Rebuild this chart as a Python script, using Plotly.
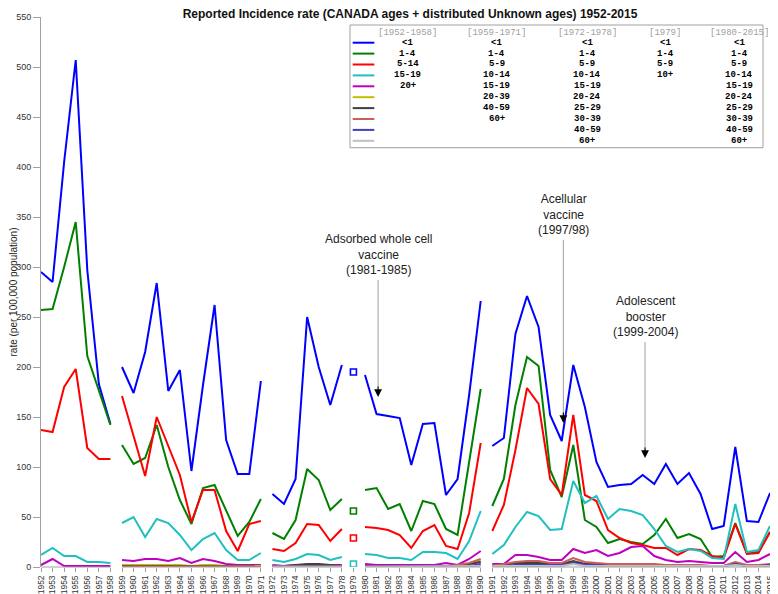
import plotly.graph_objects as go

# colours used for the age groups, in legend order
colors = ['#0000ff', '#008000', '#ff0000', '#1fc0c0', '#c000c0',
          '#bfbf00', '#404040', '#cd5c5c', '#3f3fbf', '#c0c0c0']

# 1952-1958
years_a = [1952, 1953, 1954, 1955, 1956, 1957, 1958]
seg_a = {
    '<1': [295, 285, 405, 507, 297, 183, 143],
    '1-4': [257, 258, 300, 345, 211, 177, 142],
    '5-14': [137, 135, 180, 198, 119, 108, 108],
    '15-19': [12, 19, 11, 11, 5, 5, 4],
    '20+': [2, 8, 1, 1, 1, 1, 1],
}

# 1959-1971
years_b = list(range(1959, 1972))
seg_b = {
    '<1': [200, 174, 215, 284, 176, 197, 96, 182, 262, 127, 93, 93, 186],
    '1-4': [122, 103, 109, 142, 100, 67, 43, 79, 82, 57, 31, 45, 68],
    '5-9': [171, 130, 91, 150, 121, 92, 45, 77, 77, 36, 16, 43, 46],
    '10-14': [44, 50, 30, 48, 44, 32, 17, 28, 34, 17, 7, 7, 14],
    '15-19': [7, 6, 8, 8, 6, 9, 4, 8, 6, 3, 2, 2, 2],
    '20-39': [2, 2, 2, 2, 2, 2, 1, 2, 2, 1, 1, 1, 1],
    '40-59': [1, 1, 1, 1, 1, 1, 1, 1, 1, 1, 0.5, 0.5, 0.5],
    '60+': [0.5, 0.5, 0.5, 0.5, 0.5, 0.5, 0.5, 0.5, 0.5, 0.5, 0.3, 0.3, 0.3],
}

# 1972-1978
years_c = list(range(1972, 1979))
seg_c = {
    '<1': [73, 63, 88, 250, 200, 162, 202],
    '1-4': [34, 28, 47, 98, 87, 57, 68],
    '5-9': [18, 16, 24, 43, 42, 26, 38],
    '10-14': [7, 5, 8, 13, 12, 7, 10],
    '15-19': [2, 1, 2, 2, 2, 2, 2],
    '20-24': [1, 1, 1, 2, 2, 1, 1],
    '25-29': [1, 1, 2, 3, 3, 2, 1],
    '30-39': [1, 1, 1, 1, 1, 1, 1],
    '40-59': [0.5, 0.5, 0.5, 0.5, 0.5, 0.5, 0.5],
    '60+': [0.3, 0.3, 0.3, 0.3, 0.3, 0.3, 0.3],
}

# 1979
years_d = [1979]
seg_d = {
    '<1': [195],
    '1-4': [56],
    '5-9': [29],
    '10+': [3],
}

# 1980-2015 (drawn as two pieces: 1980-1990 and 1991-2015)
years_e = list(range(1980, 2016))
seg_e = {
    '<1': [192, 153, 151, 149, 102, 143, 144, 72, 88, 172, 266,
           121, 129, 233, 271, 240, 152, 126, 202, 160, 105, 80, 82, 83,
           92, 83, 103, 83, 94, 73, 38, 41, 120, 46, 45, 74],
    '1-4': [77, 79, 58, 63, 36, 66, 63, 38, 32, 105, 178,
            61, 88, 162, 210, 201, 97, 70, 122, 47, 40, 24, 28, 25,
            23, 32, 48, 29, 33, 28, 10, 11, 44, 14, 15, 35],
    '5-9': [40, 39, 37, 32, 19, 36, 42, 21, 18, 54, 124,
            36, 62, 117, 179, 163, 88, 72, 152, 72, 66, 37, 29, 24,
            22, 19, 19, 12, 18, 17, 11, 9, 43, 13, 14, 35],
    '10-14': [13, 12, 9, 9, 7, 15, 15, 14, 8, 26, 56,
              13, 22, 40, 55, 51, 37, 38, 86, 64, 71, 48, 58, 56,
              52, 38, 21, 15, 18, 16, 9, 8, 63, 15, 17, 41],
    '15-19': [3, 2, 2, 2, 2, 2, 2, 4, 2, 8, 16,
              3, 3, 12, 12, 10, 7, 7, 18, 14, 17, 11, 14, 20,
              21, 11, 7, 5, 6, 5, 4, 4, 15, 5, 7, 13],
    '20-24': [1, 1, 1, 1, 1, 1, 1, 1, 1, 3, 6,
              1, 2, 3, 4, 4, 3, 3, 5, 3, 3, 2, 2, 2,
              2, 2, 1, 1, 1, 1, 1, 1, 3, 1, 1, 2],
    '25-29': [1, 1, 1, 1, 1, 1, 1, 1, 1, 3, 5,
              1, 2, 4, 4, 4, 3, 3, 6, 3, 3, 2, 2, 2,
              2, 2, 2, 1, 1, 1, 1, 1, 3, 1, 1, 2],
    '30-39': [1, 1, 1, 1, 1, 1, 1, 1, 2, 4, 8,
              1, 3, 5, 6, 6, 4, 4, 9, 5, 4, 3, 3, 3,
              3, 3, 2, 2, 2, 2, 1, 1, 5, 2, 2, 3],
    '40-59': [0.5, 0.5, 0.5, 0.5, 0.5, 0.5, 0.5, 0.5, 0.5, 1, 3,
              1, 1, 2, 2, 2, 2, 2, 4, 2, 2, 1, 1, 1,
              1, 1, 1, 1, 1, 1, 1, 1, 3, 1, 1, 2],
    '60+': [0.3, 0.3, 0.3, 0.3, 0.3, 0.3, 0.3, 0.3, 0.3, 0.5, 1,
            1, 1, 1, 1, 1, 1, 1, 3, 1, 1, 1, 1, 1,
            1, 1, 1, 1, 1, 1, 1, 1, 2, 1, 1, 1],
}
split_year = 1991

headers = ['[1952-1958]', '[1959-1971]', '[1972-1978]', '[1979]', '[1980-2015]']
segments = [(years_a, seg_a), (years_b, seg_b), (years_c, seg_c), (years_d, seg_d), (years_e, seg_e)]

# page geometry in pixels (the page body adds an 8px margin round the figure)
OFF = 8
W, H = 778 - OFF, 594 - OFF
L, R, T, B = 41 - OFF, 8, 17 - OFF, 27
PW, PH = W - L - R, H - T - B


def px(x):
    # page pixel x -> paper
    return (x - OFF - L) / PW


def py(y):
    # page pixel y -> paper
    return (T + PH - (y - OFF)) / PH


fig = go.Figure()

pieces = []
for years, seg in segments:
    if years[0] <= split_year <= years[-1]:
        k = years.index(split_year)
        pieces.append((years[:k], {g: v[:k] for g, v in seg.items()}))
        pieces.append((years[k:], {g: v[k:] for g, v in seg.items()}))
    else:
        pieces.append((years, seg))

for years, seg in pieces:
    for i, (group, vals) in enumerate(seg.items()):
        if len(years) == 1:
            fig.add_trace(go.Scatter(x=years, y=vals, mode='markers', showlegend=False,
                                     marker=dict(symbol='square-open', size=6, color=colors[i],
                                                 line=dict(width=1.6, color=colors[i]))))
        else:
            fig.add_trace(go.Scatter(x=years, y=vals, mode='lines', showlegend=False,
                                     line=dict(color=colors[i], width=2)))

shapes = []
# broken x-axis baseline, one piece per segment
for years, _ in pieces:
    if len(years) > 1:
        shapes.append(dict(type='line', xref='x', yref='paper', x0=years[0], x1=years[-1], y0=0, y1=0,
                           line=dict(color='#a0a0a0', width=1)))

# custom legend box
shapes.append(dict(type='rect', xref='paper', yref='paper', x0=px(350), x1=px(763), y0=py(25), y1=py(147.7),
                   line=dict(color='#a0a0a0', width=1), fillcolor='white', layer='above'))
row0, row_h = 42.7, 10.9
for i, c in enumerate(colors):
    yy = py(row0 + i * row_h)
    shapes.append(dict(type='line', xref='paper', yref='paper', x0=px(352.7), x1=px(374.3), y0=yy, y1=yy,
                       line=dict(color=c, width=2), layer='above'))

annotations = []
col_x = [407.7, 496.7, 587, 665, 739]
mono = 'Liberation Mono, Courier New, monospace'
for j, (hdr, (years, seg)) in enumerate(zip(headers, segments)):
    annotations.append(dict(xref='paper', yref='paper', x=px(col_x[j]), y=py(32.7), text=hdr, showarrow=False,
                            font=dict(family=mono, size=9, color='#a0a0a0'), xanchor='center', yanchor='middle'))
    for i, group in enumerate(seg.keys()):
        annotations.append(dict(xref='paper', yref='paper', x=px(col_x[j]), y=py(row0 + i * row_h),
                                text='<b>%s</b>' % group.replace('<', '&lt;'), showarrow=False,
                                font=dict(family=mono, size=9, color='black'),
                                xanchor='center', yanchor='middle'))

# event annotations: (x, text centre value, line top, line bottom, tip)
events = [
    (1981.13, 313, 287, 180, 170, 'Adsorbed whole cell<br>vaccine<br>(1981-1985)'),
    (1997.14, 353, 327, 154, 144, 'Acellular<br>vaccine<br>(1997/98)'),
    (2004.2, 251, 225, 119, 109, 'Adolescent<br>booster<br>(1999-2004)'),
]
text_font = dict(family='Liberation Sans, Arial, sans-serif', size=12, color='#222222')
for x, ty, top, bot, tip, txt in events:
    annotations.append(dict(x=x, y=ty, text=txt, showarrow=False, font=text_font,
                            xanchor='center', yanchor='middle'))
    shapes.append(dict(type='line', xref='x', yref='y', x0=x, x1=x, y0=top, y1=bot,
                       line=dict(color='#a0a0a0', width=1)))
    annotations.append(dict(x=x, y=tip, ax=x, ay=bot + 2, axref='x', ayref='y', text='', showarrow=True,
                            arrowhead=2, arrowsize=1.3, arrowwidth=1.2, arrowcolor='black'))

annotations.append(dict(xref='paper', yref='paper', x=px(12.5), y=0.5, text='rate (per 100,000 population)',
                        textangle=-90, showarrow=False, xanchor='center', yanchor='middle',
                        font=dict(family='Liberation Sans, Arial, sans-serif', size=10, color='#222222')))

fig.update_layout(
    width=W, height=H,
    margin=dict(l=L, r=R, t=T, b=B),
    paper_bgcolor='white', plot_bgcolor='white',
    title=dict(text='<b>Reported Incidence rate (CANADA ages + distributed Unknown ages) 1952-2015</b>',
               x=px(410), xref='paper', xanchor='center', y=1 - 1.5 / H, yanchor='top',
               font=dict(family='Liberation Sans, Arial, sans-serif', size=12, color='#111111')),
    xaxis=dict(range=[1952, 2015], tick0=1952, dtick=1, tickangle=-90, showgrid=False, zeroline=False,
               showline=False, ticks='outside', ticklen=4, tickcolor='#a0a0a0', automargin=False,
               tickfont=dict(family='Liberation Sans, Arial, sans-serif', size=8.5, color='#333333')),
    yaxis=dict(range=[0, 550], dtick=50, showgrid=False, zeroline=False, showline=True, linecolor='#a0a0a0',
               ticks='outside', ticklen=7, tickcolor='#a0a0a0', automargin=False,
               tickfont=dict(family='Liberation Sans, Arial, sans-serif', size=9, color='#333333')),
    shapes=shapes,
    annotations=annotations,
)

fig.write_html("out.html")
